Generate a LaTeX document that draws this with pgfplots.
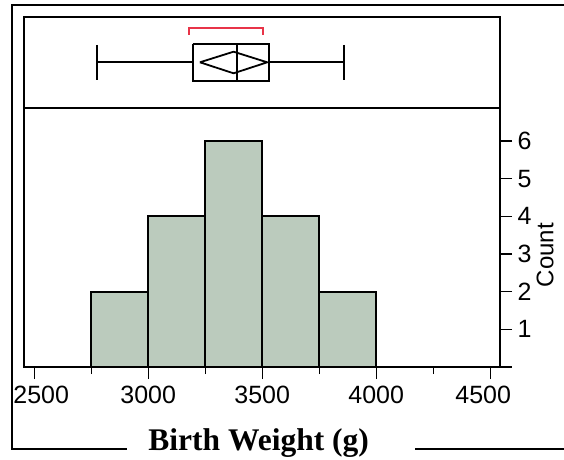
\documentclass[border=0pt]{standalone}
\usepackage{pgfplots}
\pgfplotsset{compat=1.18}
\usepackage{fontspec}
\setmainfont{Liberation Sans}
\newfontfamily\titlefont{Liberation Serif}
\definecolor{barfill}{RGB}{187,203,189}
\definecolor{redb}{RGB}{232,52,72}
\begin{document}
\begin{tikzpicture}[x=1pt,y=1pt]
\useasboundingbox (0,0) rectangle (564,459);
% outer frame
\draw[line width=2.2pt] (564,454) -- (12.3,454) -- (12.3,10.3) -- (126.7,10.3);
\draw[line width=2.2pt] (415,10.3) -- (564,10.3);
\node[anchor=base, font=\titlefont\bfseries\fontsize{31.5}{36}\selectfont, inner sep=0pt] at (258.7,9) {Birth Weight (g)};
\node[rotate=90, font=\fontsize{24}{28}\selectfont, inner sep=0pt] at (545,204) {Count};

% histogram
\begin{axis}[
  at={(23.7pt,92pt)}, anchor=south west, scale only axis,
  width=476.3pt, height=258.7pt,
  xmin=2454, xmax=4543, ymin=0, ymax=6.87,
  clip=false,
  axis line style={line width=1.8pt},
  xtick={2500,3000,3500,4000,4500},
  xticklabels={\hspace*{14pt}2500,3000,3500,4000,4500\hspace*{14pt}},
  minor xtick={2750,3250,3750,4250},
  ytick={1,2,3,4,5,6},
  xtick pos=lower, ytick pos=right, yticklabel pos=right,
  tick align=outside,
  major tick length=12pt, minor tick length=7pt,
  every tick/.style={black, line width=1.3pt},
  /pgf/number format/1000 sep={},
  /pgf/number format/assume math mode=true,
  tick label style={font=\fontsize{25}{29}\selectfont},
  xticklabel style={yshift=-4pt},
  yticklabel style={xshift=2pt},
]
\addplot[ybar interval, fill=barfill, draw=black, line width=1.8pt]
  coordinates {(2750,2) (3000,4) (3250,6) (3500,4) (3750,2) (4000,2)};
\draw[line width=1.8pt] (axis cs:4500,0) -- (axis cs:4594,0);
\end{axis}

% box plot panel
\begin{axis}[
  at={(23.7pt,350.7pt)}, anchor=south west, scale only axis,
  width=476.3pt, height=91.6pt,
  xmin=2454, xmax=4543, ymin=16.7, ymax=108.3, y dir=reverse,
  xtick=\empty, ytick=\empty,
  axis line style={line width=1.8pt},
]
% whiskers
\addplot[black, line width=1.7pt] coordinates {(2777,62.3) (3195,62.3)};
\addplot[black, line width=1.7pt] coordinates {(3531,62.3) (3860,62.3)};
\addplot[black, line width=1.7pt] coordinates {(2777,45) (2777,80)};
\addplot[black, line width=1.7pt] coordinates {(3860,45) (3860,80)};
% box
\addplot[black, line width=1.8pt] coordinates {(3195,44) (3531,44) (3531,80.7) (3195,80.7) (3195,44)};
\addplot[black, line width=1.8pt] coordinates {(3388,44) (3388,80.7)};
% diamond
\addplot[black, line width=1.8pt] coordinates {(3227,62.3) (3374.5,51.7) (3522,62.3) (3374.5,73.3) (3227,62.3)};
% shortest half bracket
\addplot[redb, line width=1.7pt] coordinates {(3180,35) (3180,28.3) (3505,28.3) (3505,35)};
\end{axis}
\end{tikzpicture}
\end{document}
